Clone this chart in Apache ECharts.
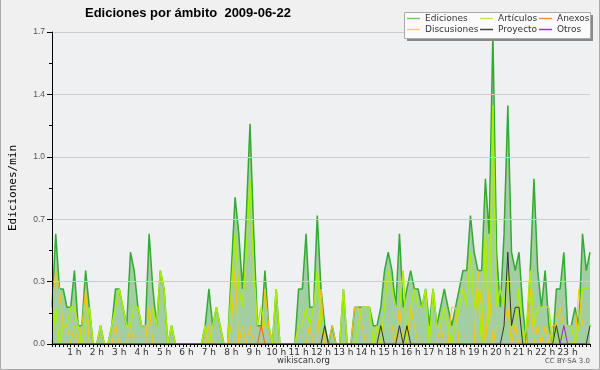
<!DOCTYPE html>
<html><head><meta charset="utf-8">
<script src="https://cdn.jsdelivr.net/npm/echarts@6/dist/echarts.min.js"></script>
<style>html,body{margin:0;padding:0;background:#f0f0f0;}#c{width:600px;height:370px;}</style>
</head><body><div id="c"></div>
<script>
// 10-minute steps from 00:00 to 24:00 (145 points), edits per minute
const ediciones = [0.2,0.6,0.3,0.3,0.2,0.2,0.4,0.1,0.1,0.4,0.2,0,0,0.1,0,0,0.1,0.3,0.3,0.2,0.1,0.5,0.4,0.2,0.1,0.1,0.6,0.3,0.1,0.4,0.3,0,0.1,0,0,0,0,0,0,0,0,0.1,0.3,0.1,0.2,0.1,0,0,0.4,0.8,0.6,0.3,0.7,1.2,0.6,0.1,0.1,0.4,0.1,0,0.3,0,0,0,0,0,0.3,0.3,0.6,0.2,0.2,0.7,0.3,0.1,0,0.1,0,0,0.3,0,0,0.2,0.2,0.2,0.2,0.2,0.1,0.1,0.2,0.4,0.5,0.4,0.2,0.6,0.2,0.3,0.4,0.3,0.3,0.2,0.3,0.1,0.3,0.1,0.2,0.3,0.2,0.1,0.2,0.3,0.4,0.4,0.7,0.5,0.4,0.4,0.9,0.6,1.7,0.5,0.2,0.6,1.3,0.5,0.4,0.5,0.2,0,0.4,0.9,0.4,0.2,0.4,0.1,0,0.3,0.3,0.5,0.1,0.1,0.2,0.1,0.6,0.4,0.5];
const articulos = [0,0.2,0,0.1,0.1,0.2,0.2,0.1,0,0.1,0.2,0,0,0.1,0,0,0.1,0.2,0.3,0.2,0.1,0.1,0.2,0.2,0.1,0.1,0.1,0.2,0.1,0.4,0.3,0,0.1,0,0,0,0,0,0,0,0,0.1,0,0.1,0.2,0.1,0,0,0.3,0.6,0.3,0.2,0.5,0.9,0.4,0.1,0.2,0.1,0.1,0,0.3,0,0,0,0,0,0.1,0.1,0.2,0.1,0.2,0.4,0.1,0,0,0,0,0,0.3,0,0,0,0.1,0.2,0.2,0.2,0,0.1,0,0.2,0.4,0.3,0.2,0.2,0.4,0,0.2,0.3,0.2,0.2,0.3,0,0.3,0.1,0.1,0.2,0.1,0,0.1,0.2,0.3,0.2,0.5,0.2,0.3,0,0.6,0.1,1.3,0.2,0.3,0.2,0.4,0.1,0.1,0.3,0,0.1,0.4,0.1,0.2,0.2,0.2,0.2,0,0.1,0,0.1,0.1,0.1,0,0.1,0.3,0.3,0.3];
const discusiones = [0.2,0.4,0.3,0.1,0.1,0,0.1,0,0.1,0.3,0,0,0,0,0,0,0,0.1,0,0,0,0.1,0,0,0,0,0.2,0,0,0,0,0,0,0,0,0,0,0,0,0,0,0,0.1,0,0,0,0,0,0.1,0.4,0,0.1,0,0.1,0,0,0,0.3,0.1,0,0,0,0,0,0,0,0,0,0,0.1,0,0,0.3,0,0,0.1,0,0,0,0,0,0.2,0.2,0.1,0,0,0,0,0.1,0.1,0.1,0.1,0,0.2,0,0,0.2,0.1,0,0,0,0,0,0,0.1,0,0,0.2,0.2,0,0,0,0,0,0.4,0.2,0,0.3,0,0.1,0.1,0.1,0.2,0,0.1,0,0,0,0.3,0,0.1,0,0.1,0,0.1,0.1,0.2,0.1,0,0,0,0.3,0.1,0.1,0.1];
const anexos = [0,0,0,0,0,0,0,0,0,0,0,0,0,0,0,0,0,0,0,0,0,0,0,0,0,0,0,0,0,0,0,0,0,0,0,0,0,0,0,0,0,0,0,0,0,0,0,0,0,0,0,0,0,0,0,0,0.1,0,0,0,0,0,0,0,0,0,0,0,0,0,0,0,0,0,0,0,0,0,0,0,0,0,0,0,0,0,0,0,0,0,0,0,0,0,0,0,0,0,0,0,0,0,0,0,0,0,0,0,0,0,0,0,0,0,0,0,0,0,0,0,0,0,0,0,0,0,0,0,0,0,0,0,0,0,0,0,0,0,0,0,0,0,0,0,0];
const proyecto = [0,0,0,0,0,0,0,0,0,0,0,0,0,0,0,0,0,0,0,0,0,0,0,0,0,0,0,0,0,0,0,0,0,0,0,0,0,0,0,0,0,0,0,0,0,0,0,0,0,0,0,0,0,0,0,0,0,0,0,0,0,0,0,0,0,0,0,0,0,0,0,0,0,0.1,0,0,0,0,0,0,0,0,0,0,0,0,0,0,0.1,0,0,0,0,0.1,0,0.1,0,0,0,0,0,0,0,0,0,0,0,0,0,0,0,0,0,0,0,0,0,0,0,0,0,0.1,0.5,0.1,0.2,0.2,0,0,0,0,0,0,0,0,0,0.1,0,0,0,0,0,0,0,0,0.1];
const otros = [0,0,0,0,0,0,0,0,0,0,0,0,0,0,0,0,0,0,0,0,0,0,0,0,0,0,0,0,0,0,0,0,0,0,0,0,0,0,0,0,0,0,0,0,0,0,0,0,0,0,0,0,0,0,0,0,0,0,0,0,0,0,0,0,0,0,0,0,0,0,0,0,0,0,0,0,0,0,0,0,0,0,0,0,0,0,0,0,0,0,0,0,0,0,0,0,0,0,0,0,0,0,0,0,0,0,0,0,0,0,0,0,0,0,0,0,0,0,0,0,0,0,0,0,0,0,0,0,0,0,0,0,0,0,0,0,0,0.1,0,0,0,0,0,0,0];
const seriesNames = ['Ediciones','Artículos','Anexos','Discusiones','Proyecto','Otros'];
const hourLabels = ['', '1 h','2 h','3 h','4 h','5 h','6 h','7 h','8 h','9 h','10 h','11 h','12 h','13 h','14 h','15 h','16 h','17 h','18 h','19 h','20 h','21 h','22 h','23 h',''];
const yLabels = ['0.0','0.3','0.7','1.0','1.4','1.7'];
const titleText = 'Ediciones por ámbito  2009-06-22';

const pairs = a => a.map((v, i) => [i, v]);
const chart = echarts.init(document.getElementById('c'), null, {renderer: 'canvas'});
const legendCommon = {icon: 'rect', itemWidth: 13, itemHeight: 1.5, padding: 0, itemGap: 0, selectedMode: false, z: 12,
  textStyle: {fontFamily: 'DejaVu Sans', fontSize: 9, color: '#333'}};
const legendPos = [[407, 14], [480, 14], [539, 14], [407, 25], [480, 25], [539, 25]];
const lineSeries = (name, data, color, legendColor, width, z) => ({
  name, type: 'line', data: pairs(data), symbol: 'none', z,
  lineStyle: {color, width}, itemStyle: {color: legendColor}, emphasis: {disabled: true}
});
const s0 = lineSeries(seriesNames[0], ediciones, '#33aa33', '#70c870', 1.5, 2);
s0.areaStyle = {color: '#a2cea2', opacity: 1};
chart.setOption({
  animation: false,
  backgroundColor: '#f0f0f0',
  title: {text: titleText, left: 85, top: 7, padding: 0,
    textStyle: {fontFamily: 'Liberation Sans', fontWeight: 'bold', fontSize: 13, color: '#000'}},
  legend: seriesNames.map((n, k) => Object.assign({}, legendCommon, {data: [n], left: legendPos[k][0], top: legendPos[k][1]})),
  grid: {left: 46, right: 10, top: 32, bottom: 26, show: true, backgroundColor: '#eef0f2', borderWidth: 0},
  xAxis: {type: 'value', min: 0, max: 144, interval: 6, z: 10,
    axisLine: {lineStyle: {color: '#000', width: 1}},
    axisTick: {length: 3, lineStyle: {color: '#000'}},
    minorTick: {show: true, splitNumber: 6, length: 3, lineStyle: {color: '#000'}},
    splitLine: {show: false},
    axisLabel: {formatter: v => hourLabels[Math.round(v / 6)] || '', fontFamily: 'DejaVu Sans', fontSize: 9, color: '#333', margin: 4}},
  yAxis: {type: 'value', min: 0, max: 1.7, interval: 0.34, z: 10,
    name: 'Ediciones/min', nameLocation: 'middle', nameGap: 33,
    nameTextStyle: {fontFamily: 'DejaVu Sans Mono', fontSize: 11, color: '#000'},
    axisLine: {show: true, lineStyle: {color: '#000'}},
    axisTick: {show: true, length: 5, lineStyle: {color: '#000'}},
    minorTick: {show: true, splitNumber: 2, length: 3, lineStyle: {color: '#000'}},
    splitLine: {lineStyle: {color: '#cccccc'}},
    axisLabel: {formatter: (v) => yLabels[Math.round(v / 0.34)], fontFamily: 'Liberation Sans', fontSize: 8.5, color: '#555', margin: 7}},
  graphic: [
    {type: 'rect', z: 10, shape: {x: 407, y: 15, width: 186, height: 26}, style: {fill: '#888'}},
    {type: 'rect', z: 11, shape: {x: 404.5, y: 12.5, width: 186, height: 26}, style: {fill: '#fbfbfb', stroke: '#aaa', lineWidth: 1}},
    {type: 'text', z: 11, left: 277, top: 356, style: {text: 'wikiscan.org', font: '8.5px "DejaVu Sans"', fill: '#333'}},
    {type: 'text', z: 11, right: 10, top: 358, style: {text: 'CC BY-SA 3.0', font: '7px "DejaVu Sans"', fill: '#555'}},
    {type: 'polyline', z: 11, shape: {points: [[0.5, 0], [0.5, 369.5], [599.5, 369.5], [599.5, 0]]}, style: {stroke: '#aaa', fill: null, lineWidth: 1}}
  ],
  series: [
    s0,
    lineSeries(seriesNames[1], articulos, '#aaee00', '#c0ea50', 1.5, 3),
    lineSeries(seriesNames[3], discusiones, '#ffc600', '#ffd050', 1, 4),
    lineSeries(seriesNames[2], anexos, '#ff5a22', '#ff8855', 1, 5),
    lineSeries(seriesNames[4], proyecto, '#333333', '#444444', 1, 6),
    lineSeries(seriesNames[5], otros, '#8a2be2', '#8a3be8', 1, 7)
  ]
});
</script></body></html>
